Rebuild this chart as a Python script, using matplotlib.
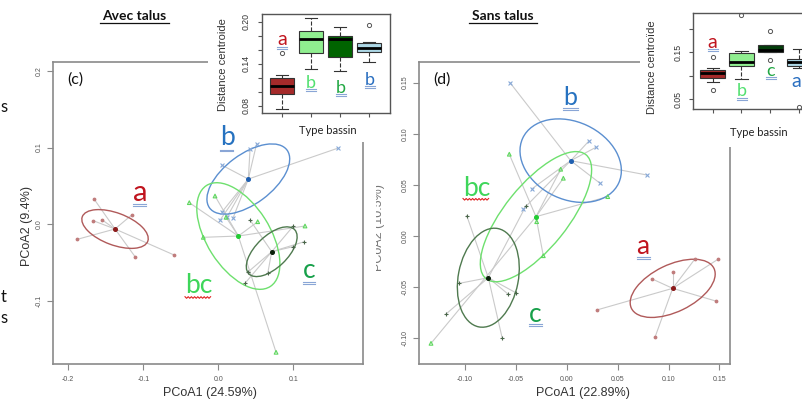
import numpy as np
import matplotlib
matplotlib.use('Agg')
from matplotlib import pyplot as plt
from matplotlib.patches import Ellipse, Rectangle
from matplotlib.lines import Line2D
from matplotlib.transforms import Bbox, TransformedBbox

# ---------------- data ----------------
groups = ['a', 'b', 'bc', 'c']

# (c) Avec talus - PCoA
avec_cent_x = [-0.1377, 0.040, 0.0267, 0.0712]
avec_cent_y = [-0.0065, 0.0588, -0.0157, -0.0362]
avec_a_x = [-0.1657, -0.1667, -0.1547, -0.1155, -0.188, -0.111, -0.059]
avec_a_y = [0.0327, 0.0043, 0.0052, 0.0118, -0.020, -0.0427, -0.0405]
avec_b_x = [0.0423, 0.051, 0.0045, 0.159, 0.0049, 0.0024, 0.0116, 0.0196]
avec_b_y = [0.0976, 0.1046, 0.0771, 0.099, 0.0157, 0.0052, 0.0092, 0.0078]
avec_bc_x = [-0.0044, -0.0387, -0.020, 0.0525, 0.1156, 0.0103, 0.077]
avec_bc_y = [0.0366, 0.0279, -0.0174, 0.003, -0.0026, 0.0088, -0.1677]
avec_c_x = [0.0423, 0.100, 0.1147, 0.0992, 0.040, 0.0659, 0.0356]
avec_c_y = [0.0052, -0.0026, -0.0231, -0.0297, -0.0624, -0.0644, -0.0775]
avec_ell_w = [0.093, 0.128, 0.157, 0.084]
avec_ell_h = [0.042, 0.065, 0.084, 0.042]
avec_ell_ang = [-20, 36, -57, 43]

# (d) Sans talus - PCoA
sans_cent_x = [0.1041, 0.0039, -0.0302, -0.077]
sans_cent_y = [-0.0512, 0.0737, 0.0189, -0.0408]
sans_a_x = [0.149, 0.1257, 0.1041, 0.0841, 0.1464, 0.0295, 0.0867]
sans_a_y = [-0.0225, -0.0228, -0.0349, -0.0421, -0.0636, -0.0724, -0.0991]
sans_b_x = [-0.0557, 0.0219, 0.0288, 0.0786, 0.0327, -0.0344, -0.0426]
sans_b_y = [0.150, 0.093, 0.0868, 0.0597, 0.0516, 0.046, 0.0264]
sans_bc_x = [-0.0564, -0.0059, -0.0033, 0.0403, -0.0295, -0.023, -0.1333]
sans_bc_y = [0.080, 0.0653, 0.0565, 0.0385, 0.014, -0.0193, -0.105]
sans_c_x = [-0.0982, -0.040, -0.1055, -0.0574, -0.050, -0.1189, -0.0633]
sans_c_y = [0.0199, 0.0296, -0.0463, -0.057, -0.0555, -0.0766, -0.1001]
sans_ell_w = [0.090, 0.104, 0.156, 0.098]
sans_ell_h = [0.046, 0.076, 0.062, 0.059]
sans_ell_ang = [25.7, -25, 51, 79]

# boxplots of distance to centroid
avec_med = [0.1085, 0.176, 0.175, 0.163]
avec_q1 = [0.097, 0.156, 0.150, 0.157]
avec_q3 = [0.120, 0.187, 0.179, 0.169]
avec_lo = [0.0753, 0.133, 0.130, 0.142]
avec_hi = [0.1237, 0.206, 0.192, 0.1715]
avec_out = [[0.156], [], [], [0.195]]

sans_med = [0.1066, 0.130, 0.155, 0.130]
sans_q1 = [0.096, 0.1215, 0.151, 0.1215]
sans_q3 = [0.112, 0.149, 0.1655, 0.135]
sans_lo = [0.0875, 0.093, 0.151, 0.116]
sans_hi = [0.116, 0.153, 0.1655, 0.156]
sans_out = [[0.141, 0.0698], [0.229], [0.196, 0.1336], [0.034]]

# ---------------- styles ----------------
W, H = 802, 400
R_FONT = 'Liberation Sans'
S_FONT = 'Lato'

pt_col = ['#c07c7c', '#86a8d8', '#5ed85e', '#4a664a']
cent_col = ['#8b1a1a', '#1f5fb0', '#22cc33', '#0a200a']
ell_col = ['#b05a5a', '#5b8fd0', '#6ee06e', '#4f7a4f']
markers = ['o', 'x', '^', '+']
box_avec_col = ['#a52a2a', '#90ee90', '#006400', '#add8e6']
box_sans_col = ['#a52a2a', '#90ee90', '#033d0a', '#add8e6']

fig = plt.figure(figsize=(8.02, 4.0), dpi=100)
fig.patch.set_facecolor('white')


def px_axes(l, t, r, b):
    return fig.add_axes([l / W, 1 - b / H, (r - l) / W, (b - t) / H])


def ftext(x, y, s, **kw):
    kw.setdefault('zorder', 6)
    return fig.text(x / W, 1 - y / H, s, **kw)


def hline(x0, x1, y, color, lw=0.9):
    fig.add_artist(Line2D([x0 / W, x1 / W], [1 - y / H, 1 - y / H],
                          transform=fig.transFigure, color=color, lw=lw, zorder=6))


def dbl_ul(x0, x1, y, color='#8aa6d6'):
    hline(x0, x1, y, color, 0.8)
    hline(x0, x1, y + 2, color, 0.8)


def wavy(x0, x1, y, color='#e02020'):
    xs = np.arange(x0, x1 + 0.1, 1.6)
    ys = y + np.where(np.arange(len(xs)) % 2 == 0, -0.8, 0.8)
    fig.add_artist(Line2D(xs / W, 1 - ys / H, transform=fig.transFigure,
                          color=color, lw=0.8, zorder=6))


def pcoa(ax, cx, cy, px, py, ew, eh, ea):
    for i in range(4):
        for x, y in zip(px[i], py[i]):
            ax.plot([cx[i], x], [cy[i], y], color='#cacaca', lw=0.8, zorder=1)
        ax.add_patch(Ellipse((cx[i], cy[i]), ew[i], eh[i], angle=ea[i], fill=False,
                             ec=ell_col[i], lw=1.0, zorder=2))
        if markers[i] == '^':
            ax.scatter(px[i], py[i], marker='^', s=7, facecolors='none',
                       edgecolors=pt_col[i], lw=0.8, zorder=3)
        elif markers[i] == 'o':
            ax.scatter(px[i], py[i], marker='o', s=3, color=pt_col[i], zorder=3)
        else:
            ax.scatter(px[i], py[i], marker=markers[i], s=8, color=pt_col[i],
                       lw=0.8, zorder=3)
        ax.plot(cx[i], cy[i], 'o', ms=2.6, color=cent_col[i], zorder=4)
    for s in ax.spines.values():
        s.set_color('#8a8a8a')
        s.set_linewidth(1.2)
    ax.tick_params(direction='out', length=4, width=0.8, color='#8a8a8a',
                   labelsize=5, labelcolor='#555555')
    ax.tick_params(axis='y', labelrotation=90, pad=3.5)
    ax.tick_params(axis='x', pad=4.5)


def inset(ax, med, q1, q3, lo, hi, out, cols):
    stats = []
    for i in range(4):
        stats.append(dict(med=med[i], q1=q1[i], q3=q3[i], whislo=lo[i],
                          whishi=hi[i], fliers=out[i]))
    bp = ax.bxp(stats, positions=[1, 2, 3, 4], widths=0.85, patch_artist=True,
                capwidths=0.42,
                boxprops=dict(edgecolor='#333333', lw=0.8),
                medianprops=dict(color='black', lw=2),
                whiskerprops=dict(color='#333333', lw=0.8, ls='--'),
                capprops=dict(color='#333333', lw=0.8),
                flierprops=dict(marker='o', mfc='none', mec='#555555', ms=3, mew=0.7))
    for patch, c in zip(bp['boxes'], cols):
        patch.set_facecolor(c)
    for s in ax.spines.values():
        s.set_color('#555555')
        s.set_linewidth(1.0)
    ax.set_xticks([1, 2, 3, 4], ['', '', '', ''])
    ax.tick_params(direction='out', length=3, width=0.8, color='#555555',
                   labelsize=6.3, labelcolor='#333333')
    ax.tick_params(axis='y', labelrotation=90, pad=5)


# ---------------- panel (c) ----------------
axc = px_axes(53, 62, 363, 364)
pcoa(axc, avec_cent_x, avec_cent_y,
     [avec_a_x, avec_b_x, avec_bc_x, avec_c_x],
     [avec_a_y, avec_b_y, avec_bc_y, avec_c_y],
     avec_ell_w, avec_ell_h, avec_ell_ang)
axc.set_xlim(-0.2204, 0.1929)
axc.set_ylim(-0.183, 0.2118)
axc.set_xticks([-0.2, -0.1, 0.0, 0.1], ['-0.2', '-0.1', '0.0', '0.1'], family=R_FONT)
axc.set_yticks([-0.1, 0.0, 0.1, 0.2], ['-0.1', '0.0', '0.1', '0.2'], family=R_FONT, va='center')

# ---------------- panel (d) ----------------
axd = px_axes(419.3, 61.7, 730, 364.3)
pcoa(axd, sans_cent_x, sans_cent_y,
     [sans_a_x, sans_b_x, sans_bc_x, sans_c_x],
     [sans_a_y, sans_b_y, sans_bc_y, sans_c_y],
     sans_ell_w, sans_ell_h, sans_ell_ang)
axd.set_xlim(-0.1448, 0.1604)
axd.set_ylim(-0.1255, 0.1705)
tk = [-0.10, -0.05, 0.0, 0.05, 0.10, 0.15]
axd.set_xticks(tk, ['%.2f' % v for v in tk], family=R_FONT)
axd.set_yticks(tk, ['%.2f' % v for v in tk], family=R_FONT, va='center')

# white areas where the insets were pasted over the plots
fig.add_artist(Rectangle((208 / W, 1 - 142 / H), 192 / W, 142 / H, transform=fig.transFigure,
                         facecolor='white', edgecolor='none', zorder=1.5))
fig.add_artist(Rectangle((640 / W, 1 - 147 / H), 162 / W, 147 / H, transform=fig.transFigure,
                         facecolor='white', edgecolor='none', zorder=1.5))

# ---------------- insets ----------------
inc = px_axes(262, 14, 390, 113)
inc.set_zorder(3)
inset(inc, avec_med, avec_q1, avec_q3, avec_lo, avec_hi, avec_out, box_avec_col)
inc.set_xlim(0.31, 4.72)
inc.set_ylim(0.07, 0.211)
inc.set_yticks([0.08, 0.10, 0.12, 0.14, 0.16, 0.18, 0.20],
               ['0.08', '', '', '0.14', '', '', '0.20'], family=R_FONT, va='center')

ind = px_axes(693.3, 12.7, 820, 109.3)
ind.set_zorder(3)
inset(ind, sans_med, sans_q1, sans_q3, sans_lo, sans_hi, sans_out, box_sans_col)
ind.set_xlim(0.33, 4.72)
ind.set_ylim(0.0287, 0.2343)
ind.set_yticks([0.05, 0.10, 0.15, 0.20], ['0.05', '', '0.15', ''], family=R_FONT, va='center')

# ---------------- axis titles ----------------
ftext(210, 393, 'PCoA1 (24.59%)', ha='center', va='center', fontsize=9, family=R_FONT, color='#333333')
ftext(27, 226, 'PCoA2 (9.4%)', ha='center', va='center', rotation=90, fontsize=9, family=R_FONT, color='#333333')
ftext(582.5, 393, 'PCoA1 (22.89%)', ha='center', va='center', fontsize=9, family=R_FONT, color='#333333')
t = ftext(379, 228, 'PCoA2 (10.5%)', ha='center', va='center', rotation=90, fontsize=9,
          family=R_FONT, color='#777777')
t.set_clip_box(TransformedBbox(Bbox.from_extents(376 / W, 0, 1, 1), fig.transFigure))
t.set_clip_on(True)

ftext(222.5, 65, 'Distance centroide', ha='center', va='center', rotation=90, fontsize=8, family=R_FONT, color='#333333')
ftext(652, 67, 'Distance centroïde', ha='center', va='center', rotation=90, fontsize=8, family=R_FONT, color='#333333')
ftext(328, 130, 'Type bassin', ha='center', va='center', fontsize=8, family=S_FONT, color='#222222')
ftext(759, 133, 'Type bassin', ha='center', va='center', fontsize=8, family=S_FONT, color='#222222')

# slide titles
ftext(134, 20, 'Avec talus', ha='center', va='baseline', fontsize=10, family=S_FONT, weight='bold', color='#111111')
hline(100, 169, 22.8, '#111111', 0.9)
ftext(503, 20, 'Sans talus', ha='center', va='baseline', fontsize=10, family=S_FONT, weight='bold', color='#111111')
hline(469, 537, 22.8, '#111111', 0.9)

ftext(75, 80, '(c)', ha='center', va='center', fontsize=11.5, family=S_FONT, color='#111111')
ftext(442, 80, '(d)', ha='center', va='center', fontsize=11.5, family=S_FONT, color='#111111')

# slide text at the left edge
ftext(0.5, 107, 's', ha='left', va='center', fontsize=12, family=S_FONT, color='#111111')
ftext(0.5, 297, 't', ha='left', va='center', fontsize=12, family=S_FONT, color='#111111')
ftext(0.5, 318, 's', ha='left', va='center', fontsize=12, family=S_FONT, color='#111111')

# ---------------- group letters ----------------
RED, BLUE, LGREEN, GREEN = '#c0141e', '#2672c0', '#3ed65a', '#17a04a'

# panel (c)
ftext(140, 201, 'a', ha='center', va='baseline', fontsize=21, family=S_FONT, color=RED)
dbl_ul(133, 146, 203.5)
ftext(227, 145, 'b', ha='center', va='baseline', fontsize=19, family=S_FONT, color=BLUE)
dbl_ul(220, 233, 149.5)
ftext(198.5, 293, 'bc', ha='center', va='baseline', fontsize=19, family=S_FONT, color=LGREEN)
wavy(185, 212, 297.5)
ftext(309.5, 278, 'c', ha='center', va='baseline', fontsize=19, family=S_FONT, color=GREEN)
dbl_ul(303, 315, 281.5)

# panel (d)
ftext(570, 105, 'b', ha='center', va='baseline', fontsize=18, family=S_FONT, color=BLUE)
dbl_ul(563, 578, 107.5)
ftext(476.5, 195.5, 'bc', ha='center', va='baseline', fontsize=19, family=S_FONT, color=LGREEN)
wavy(463, 490, 199.3)
ftext(643, 254, 'a', ha='center', va='baseline', fontsize=19, family=S_FONT, color=RED)
dbl_ul(637, 650, 257.3)
ftext(535, 321.5, 'c', ha='center', va='baseline', fontsize=19, family=S_FONT, color=GREEN)
dbl_ul(529, 542, 324)

# inset letters (c)
ftext(282, 45, 'a', ha='center', va='baseline', fontsize=14, family=S_FONT, color=RED)
dbl_ul(277, 287, 46.7)
ftext(311, 88, 'b', ha='center', va='baseline', fontsize=13, family=S_FONT, color='#52e070')
dbl_ul(306, 316, 89.3)
ftext(341, 93, 'b', ha='center', va='baseline', fontsize=13, family=S_FONT, color='#22a844')
dbl_ul(336, 346, 94.3)
ftext(370, 85, 'b', ha='center', va='baseline', fontsize=13, family=S_FONT, color='#2a6fc0')
dbl_ul(365, 375, 86)

# inset letters (d)
ftext(712.7, 48, 'a', ha='center', va='baseline', fontsize=14, family=S_FONT, color=RED)
dbl_ul(707.5, 718, 49.3)
ftext(741.7, 96.5, 'b', ha='center', va='baseline', fontsize=13, family=S_FONT, color='#52e070')
dbl_ul(736.5, 747, 97.7)
ftext(771, 76.5, 'c', ha='center', va='baseline', fontsize=13, family=S_FONT, color='#22a844')
dbl_ul(766, 776, 77.3)
ftext(796.7, 87, 'a', ha='center', va='baseline', fontsize=14, family=S_FONT, color='#2a6fc0')

plt.savefig('out.png', dpi=100)
